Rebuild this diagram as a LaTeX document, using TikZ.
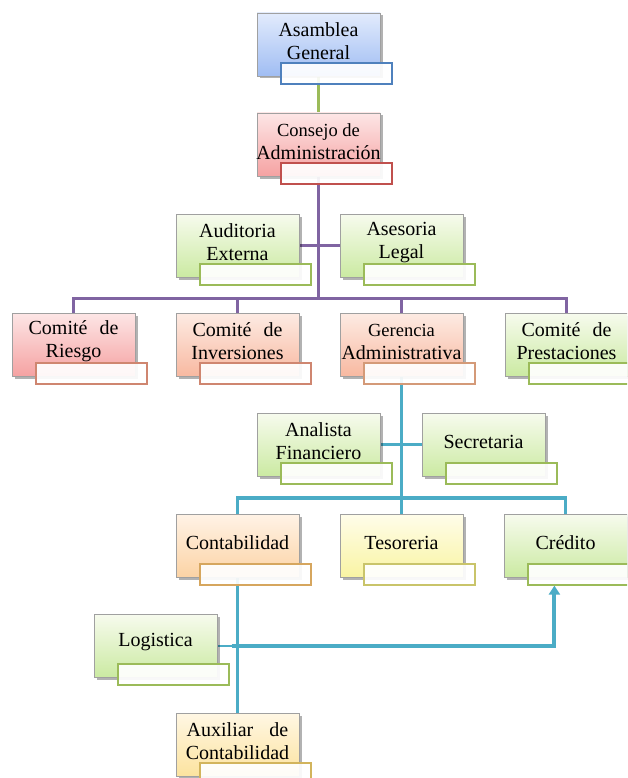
\documentclass[tikz,border=0pt]{standalone}
\usepackage{fontspec}
\setmainfont{Liberation Serif}
\usetikzlibrary{shadows,arrows.meta,backgrounds}

% fills (top / bottom of each gradient)
\definecolor{blueT}{HTML}{E2EBFC}\definecolor{blueB}{HTML}{A0BDF3}
\definecolor{pinkT}{HTML}{FDE6E6}\definecolor{pinkB}{HTML}{F5A2A2}
\definecolor{salmT}{HTML}{FDEBE3}\definecolor{salmB}{HTML}{F8B9A1}
\definecolor{grnT}{HTML}{F7FBEE}\definecolor{grnB}{HTML}{CBEAA2}
\definecolor{orgT}{HTML}{FFF3E6}\definecolor{orgB}{HTML}{FCD3A5}
\definecolor{yelT}{HTML}{FFFDEA}\definecolor{yelB}{HTML}{F9F4A3}
\definecolor{auxT}{HTML}{FFF7E4}\definecolor{auxB}{HTML}{FCE39F}
% borders of the caption tabs
\definecolor{tabBlue}{HTML}{4F81BD}
\definecolor{tabRed}{HTML}{C0504D}
\definecolor{tabGreen}{HTML}{9BBB59}
\definecolor{tabSalm}{HTML}{CF8670}
\definecolor{tabPeach}{HTML}{D49A78}
\definecolor{tabTan}{HTML}{D6A65E}
\definecolor{tabOlive}{HTML}{C9C46A}
\definecolor{tabGold}{HTML}{D2B45C}
% connectors
\definecolor{lnGreen}{HTML}{9BBB59}
\definecolor{lnPurple}{HTML}{8064A2}
\definecolor{lnBlue}{HTML}{4BACC6}
\definecolor{boxgray}{HTML}{A0A0A0}

\tikzset{
  orgbox/.style 2 args={draw=boxgray, line width=0.8pt, minimum width=123pt,
    minimum height=63pt, inner sep=0pt, top color=#1, bottom color=#2,
    drop shadow={shadow xshift=2.5pt, shadow yshift=-2.5pt, fill=black, opacity=0.3}},
  tagbox/.style={draw=#1, line width=1.2pt, fill=white, fill opacity=0.92,
    minimum width=111pt, minimum height=21pt, inner sep=0pt},
  boxtext/.style={font=\fontsize{20}{23}\selectfont, align=center, inner sep=0pt},
  gline/.style={draw=lnGreen, line width=3pt},
  pline/.style={draw=lnPurple, line width=3pt},
  bline/.style={draw=lnBlue, line width=3.5pt},
}

% one unit of the chart: box, caption tab, title
\newcommand\orgunit[7]{%
  \node[orgbox={#4}{#5}] (#1) at (#2,#3) {};
  \node[tagbox=#6] (#1l) at ([xshift=18pt,yshift=-29pt]#1.center) {};
  \node[boxtext] (#1t) at ([yshift=3pt]#1.center) {#7};
}

\begin{document}
\begin{tikzpicture}[x=1pt,y=-1pt]
\useasboundingbox (0,0) rectangle (627,778);
\clip (0,0) rectangle (627,778);

\orgunit{asamblea}{318.5}{44.5}{blueT}{blueB}{tabBlue}{Asamblea\\General}
\orgunit{consejo}{318.5}{144.5}{pinkT}{pinkB}{tabRed}{\fontsize{18.5}{22}\selectfont Consejo de\\Administración}
\orgunit{auditoria}{237.5}{245.5}{grnT}{grnB}{tabGreen}{Auditoria\\Externa}
\orgunit{asesoria}{401.5}{245.5}{grnT}{grnB}{tabGreen}{Asesoria\\Legal}
\orgunit{riesgo}{73.5}{344.5}{pinkT}{pinkB}{tabSalm}{Comité\hspace{0.6em}de\\Riesgo}
\orgunit{inversiones}{237.5}{344.5}{salmT}{salmB}{tabSalm}{Comité\hspace{0.6em}de\\Inversiones}
\orgunit{gerencia}{401.5}{344.5}{salmT}{salmB}{tabPeach}{\fontsize{18.5}{22}\selectfont Gerencia\\Administrativa}
\orgunit{prestaciones}{566.5}{344.5}{grnT}{grnB}{tabGreen}{Comité\hspace{0.6em}de\\Prestaciones}
\orgunit{analista}{318.5}{444.5}{grnT}{grnB}{tabGreen}{Analista\\Financiero}
\orgunit{secretaria}{483.5}{444.5}{grnT}{grnB}{tabGreen}{Secretaria}
\orgunit{contabilidad}{237.5}{545.5}{orgT}{orgB}{tabTan}{Contabilidad}
\orgunit{tesoreria}{401.5}{545.5}{yelT}{yelB}{tabOlive}{Tesoreria}
\orgunit{credito}{565.5}{545.5}{grnT}{grnB}{tabGreen}{Crédito}
\orgunit{logistica}{155.5}{645.5}{grnT}{grnB}{tabGreen}{Logistica}
\orgunit{auxiliar}{237.5}{744.5}{auxT}{auxB}{tabGold}{Auxiliar\hspace{0.8em}de\\Contabilidad}

% bus lines
\coordinate (pbus) at (318.5,298);
\coordinate (bbus) at (401.5,498);
\coordinate (logj) at (logistica.center -| contabilidad.center);

\begin{pgfonlayer}{background}
  \draw[gline] (asamblea.center) -- (consejo.center);
  % board level
  \draw[pline] (consejo.center) -- (pbus);
  \draw[pline] (auditoria.center) -- (asesoria.center);
  \draw[pline] (riesgo.center) -- (riesgo.center |- pbus)
     -- (prestaciones.center |- pbus) -- (prestaciones.center);
  \draw[pline] (inversiones.center) -- (inversiones.center |- pbus);
  \draw[pline] (gerencia.center) -- (gerencia.center |- pbus);
  % management level
  \draw[bline] (gerencia.center) -- (bbus);
  \draw[bline] (analista.center) -- (secretaria.center);
  \draw[bline] (contabilidad.center) -- (contabilidad.center |- bbus)
     -- (credito.center |- bbus) -- (credito.center);
  \draw[bline] (tesoreria.center) -- (tesoreria.center |- bbus);
  \draw[bline] (contabilidad.center) -- (auxiliar.center);
  \draw[bline, line width=2pt] (logistica.center) -- (logj);
  \draw[bline, line width=4pt, -{Triangle[width=11pt,length=9pt]}]
     ([xshift=-6pt]logj) -| ([xshift=27pt]creditol.south west);
\end{pgfonlayer}
\end{tikzpicture}
\end{document}
